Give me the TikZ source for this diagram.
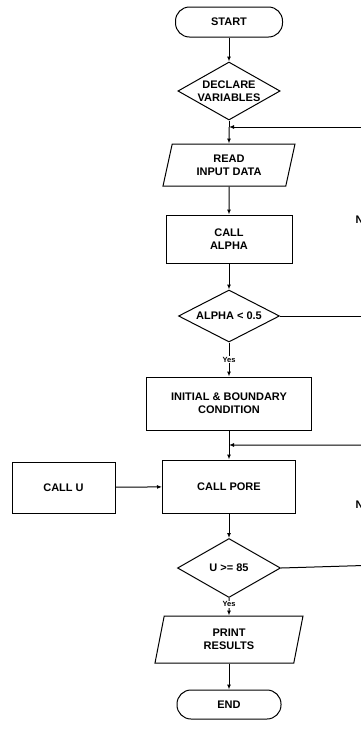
\documentclass[tikz,border=0pt]{standalone}
\usepackage{fontspec}
\setmainfont{Liberation Sans}
\usetikzlibrary{shapes.geometric,arrows.meta}
\begin{document}
\begin{tikzpicture}[x=1pt,y=-1pt,
  every node/.style={font=\fontsize{11}{13}\selectfont\bfseries, align=center, inner sep=0pt},
  base/.style={draw, line width=1pt},
  term/.style={base, rectangle, rounded corners=14pt},
  proc/.style={base, rectangle},
  dec/.style={base, diamond, aspect=1.9},
  io/.style={base, trapezium, trapezium left angle=66, trapezium right angle=114, trapezium stretches body},
  arr/.style={line width=1pt, -{Latex[length=5pt,width=4pt]}},
  ln/.style={line width=1pt},
  small/.style={font=\fontsize{7.5}{8}\selectfont\bfseries, fill=white, inner sep=1pt}
]
\useasboundingbox (0,0) rectangle (361,729);
\clip (0,0) rectangle (361,729);
\fill[white] (0,0) rectangle (361,729);

\node[term, minimum width=107pt, minimum height=30pt] (start) at (229,22) {START};
\node[dec, minimum width=100pt, minimum height=58pt] (declare) at (229,91) {DECLARE\\VARIABLES};
\coordinate (join1) at (229,127);
\node[io, minimum width=132pt, minimum height=42pt] (read) at (229,165) {READ\\INPUT DATA};
\node[proc, minimum width=126pt, minimum height=48pt] (alpha) at (229,239) {CALL\\ALPHA};
\node[dec, minimum width=101pt, minimum height=52pt] (cond1) at (229,316) {ALPHA < 0.5};
\node[proc, minimum width=165pt, minimum height=53pt] (init) at (229,403.5) {INITIAL \& BOUNDARY\\CONDITION};
\coordinate (join2) at (229,445);
\node[proc, minimum width=133pt, minimum height=53pt] (pore) at (229,486.5) {CALL PORE};
\node[proc, minimum width=103pt, minimum height=51pt] (callu) at (63.5,487.5) {CALL U};
\node[dec, minimum width=103pt, minimum height=59pt] (cond2) at (229,568) {U >= 85};
\node[io, minimum width=148pt, minimum height=47pt] (print) at (229,639.5) {PRINT\\RESULTS};
\node[term, minimum width=104pt, minimum height=29pt] (end) at (229,704.5) {END};

\coordinate (r1) at (380,316);
\coordinate (r2) at (380,565);
\node[anchor=west] (no1) at (355.5,220) {No};
\node[anchor=west] (no2) at (355.5,505) {No};

\draw[arr] (start) -- (declare);
\draw[ln] (declare.south) -- (join1);
\draw[arr] (join1) -- (read.north);
\draw[arr] (read) -- (alpha);
\draw[arr] (alpha) -- (cond1);
\draw[arr] (cond1.south) -- node[small, pos=0.5] (yes1) {Yes} (init.north);
\draw[ln] (init.south) -- (join2);
\draw[arr] (join2) -- (pore.north);
\draw[arr] (callu) -- (pore);
\draw[arr] (pore) -- (cond2);
\draw[arr] (cond2.south) -- node[small, pos=0.35] (yes2) {Yes} (print.north);
\draw[arr] (print) -- (end);

\draw[arr] (cond1.east) -- (r1) |- (join1);
\draw[arr] (cond2.east) -- (r2) |- (join2);
\end{tikzpicture}
\end{document}
